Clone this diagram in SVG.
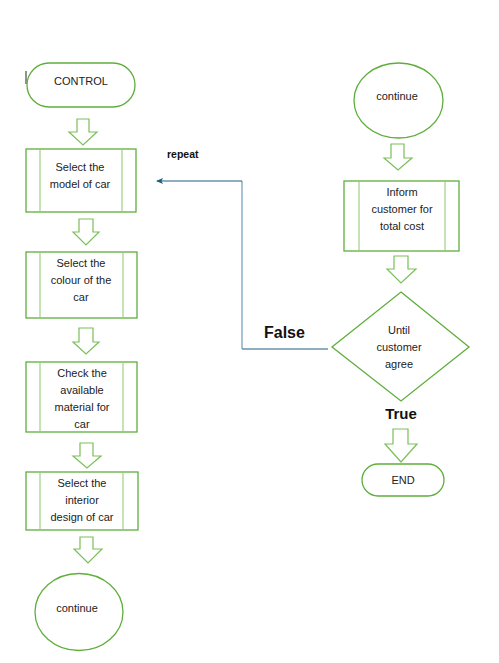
<svg xmlns="http://www.w3.org/2000/svg" width="499" height="663" viewBox="0 0 499 663">
<defs>
<style>
.sh{fill:#fff;stroke:#5fae3c;stroke-width:1.3}
.in{stroke:#a6d48c;stroke-width:1.3}
.ar{fill:#fff;stroke:#7abf58;stroke-width:1.2;stroke-linejoin:miter}
.t{font-family:"Liberation Sans",Arial,sans-serif;font-size:11px;fill:#222;text-anchor:middle;dominant-baseline:central}
.b{font-family:"Liberation Sans",Arial,sans-serif;font-weight:bold;fill:#111;dominant-baseline:central}
.cn{fill:none;stroke:#1f5f80;stroke-width:1.2}
</style>
<marker id="ah" markerWidth="8" markerHeight="8" refX="6" refY="4" orient="auto" markerUnits="userSpaceOnUse">
<path d="M0,1 L7,4 L0,7 L1.5,4 Z" fill="#1f5f80"/>
</marker>
</defs>
<rect width="499" height="663" fill="#fff"/>
<line x1="26" y1="71" x2="26" y2="84" stroke="#222" stroke-width="1"/>
<g id="connectors">
<path class="cn" d="M328,349 H242"/>
<path d="M242,349 V181" fill="none" stroke="#6d9bb6" stroke-width="1.2"/>
<path class="cn" d="M242,181 H157" marker-end="url(#ah)"/>
<text class="b" x="167" y="154" font-size="10.5">repeat</text>
<text class="b" x="264" y="332" font-size="16">False</text>
<text class="b" x="401" y="413" font-size="15" text-anchor="middle">True</text>
<path class="ar" d="M77,119 H89 V132 H97 L83,145 L69,132 H77 Z"/>
<path class="ar" d="M79,219 H93 V232 H99 L86,245 L73,232 H79 Z"/>
<path class="ar" d="M79,328 H93 V342 H99 L86,354 L73,342 H79 Z"/>
<path class="ar" d="M80,443 H93 V456 H101 L87,468 L73,456 H80 Z"/>
<path class="ar" d="M80,537 H93 V549 H102 L88,563 L74,549 H80 Z"/>
<path class="ar" d="M391,144 H404 V158 H412 L398,170 L384,158 H391 Z"/>
<path class="ar" d="M394,256 H408 V269 H416 L401,283 L387,269 H394 Z"/>
<path class="ar" d="M393,429 H408 V444 H417 L401,462 L385,444 H393 Z"/>
</g>
<g id="control">
<rect class="sh" x="27" y="63" width="108" height="44" rx="22"/>
<text class="t" x="81" y="81">CONTROL</text>
</g>
<g id="model">
<rect class="sh" x="26" y="149" width="110" height="63"/>
<line class="in" x1="40" y1="150" x2="40" y2="211"/>
<line class="in" x1="122" y1="150" x2="122" y2="211"/>
<text class="t" x="80" y="167">Select the</text>
<text class="t" x="80" y="184">model of car</text>
</g>
<g id="colour">
<rect class="sh" x="26" y="252" width="111" height="66"/>
<line class="in" x1="40" y1="253" x2="40" y2="317"/>
<line class="in" x1="123" y1="253" x2="123" y2="317"/>
<text class="t" x="81" y="263">Select the</text>
<text class="t" x="81" y="280">colour of the</text>
<text class="t" x="81" y="297">car</text>
</g>
<g id="material">
<rect class="sh" x="26" y="362" width="111" height="70"/>
<line class="in" x1="40" y1="363" x2="40" y2="431"/>
<line class="in" x1="123" y1="363" x2="123" y2="431"/>
<text class="t" x="82" y="373">Check the</text>
<text class="t" x="82" y="390">available</text>
<text class="t" x="82" y="407">material for</text>
<text class="t" x="82" y="424">car</text>
</g>
<g id="interior">
<rect class="sh" x="26" y="472" width="112" height="58"/>
<line class="in" x1="40" y1="473" x2="40" y2="529"/>
<line class="in" x1="123" y1="473" x2="123" y2="529"/>
<text class="t" x="82" y="483">Select the</text>
<text class="t" x="82" y="500">interior</text>
<text class="t" x="82" y="517">design of car</text>
</g>
<g id="continue1">
<ellipse class="sh" cx="79" cy="612" rx="44" ry="38.5"/>
<text class="t" x="77" y="608">continue</text>
</g>
<g id="continue2">
<ellipse class="sh" cx="398.5" cy="100.5" rx="44.5" ry="37.5"/>
<text class="t" x="397" y="96">continue</text>
</g>
<g id="inform">
<rect class="sh" x="344" y="181" width="115" height="70"/>
<line class="in" x1="359" y1="182" x2="359" y2="250"/>
<line class="in" x1="445" y1="182" x2="445" y2="250"/>
<text class="t" x="402" y="192">Inform</text>
<text class="t" x="402" y="209">customer for</text>
<text class="t" x="402" y="226">total cost</text>
</g>
<g id="decision">
<path class="sh" d="M401,292 L469,347 L401,401 L332,347 Z"/>
<text class="t" x="399" y="330">Until</text>
<text class="t" x="399" y="347">customer</text>
<text class="t" x="399" y="364">agree</text>
</g>
<g id="end">
<rect class="sh" x="362" y="464" width="82" height="32" rx="16"/>
<text class="t" x="403" y="480">END</text>
</g>
</svg>
